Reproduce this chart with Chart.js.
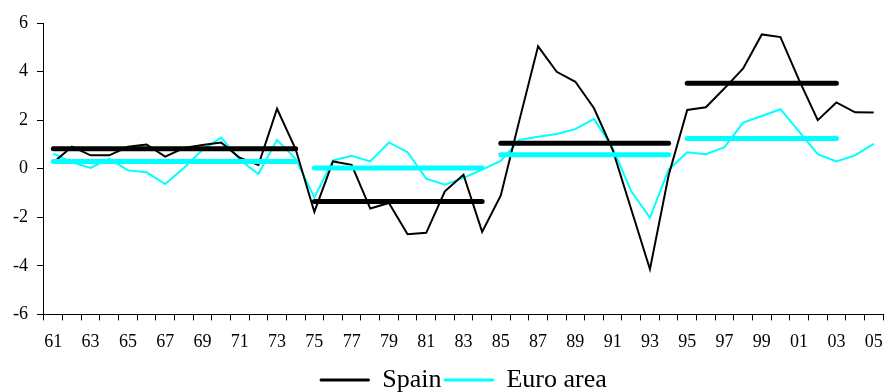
<!DOCTYPE html>
<html>
<head>
<meta charset="utf-8">
<script src="https://cdn.jsdelivr.net/npm/chart.js@4/dist/chart.umd.min.js"></script>
<style>
html,body{margin:0;padding:0;background:#fff;}
#wrap{width:884px;height:392px;position:relative;}
</style>
</head>
<body>
<div id="wrap"><canvas id="c" width="884" height="392"></canvas></div>
<script>
const years = ["61","62","63","64","65","66","67","68","69","70","71","72","73","74","75","76","77","78","79","80","81","82","83","84","85","86","87","88","89","90","91","92","93","94","95","96","97","98","99","00","01","02","03","04","05"];
const spain = [0.25,0.91,0.55,0.55,0.9,1.0,0.5,0.85,0.98,1.08,0.45,0.15,2.47,0.8,-1.78,0.3,0.16,-1.64,-1.41,-2.7,-2.64,-0.93,-0.25,-2.6,-1.1,2.0,5.04,3.99,3.58,2.49,0.78,-1.68,-4.14,-0.28,2.42,2.53,3.31,4.13,5.53,5.42,3.65,2.0,2.73,2.32,2.31];
const euro = [0.62,0.26,0.03,0.41,-0.07,-0.15,-0.63,0.03,0.78,1.28,0.37,-0.22,1.19,0.4,-1.18,0.34,0.53,0.3,1.08,0.68,-0.41,-0.66,-0.38,-0.04,0.32,1.19,1.32,1.43,1.63,2.05,0.85,-0.93,-2.02,-0.04,0.68,0.6,0.89,1.9,2.17,2.45,1.53,0.6,0.3,0.55,1.02];
const periods = [["61","74"],["75","84"],["85","94"],["95","03"]];
const spainAvg = [0.82,-1.35,1.05,3.52];
const euroAvg = [0.3,0.03,0.57,1.24];
const yTicks = [-6,-4,-2,0,2,4,6];

function periodSeries(avg, p){
  const a = years.indexOf(periods[p][0]), b = years.indexOf(periods[p][1]);
  return years.map((y, i) => (i >= a && i <= b ? avg : null));
}

const serif = "'Liberation Serif','DejaVu Serif',serif";
const datasets = [
  {label:"Spain", data:spain, borderColor:"#000000", backgroundColor:"#000000", borderWidth:2, pointRadius:0, tension:0, order:3},
  {label:"Euro area", data:euro, borderColor:"#00FFFF", backgroundColor:"#00FFFF", borderWidth:2, pointRadius:0, tension:0, order:4}
];
periods.forEach((p, k) => {
  datasets.push({label:"Spain avg", data:periodSeries(spainAvg[k], k), borderColor:"#000000", backgroundColor:"#000000", borderWidth:5, borderCapStyle:"round", pointRadius:0, spanGaps:false, order:1});
  datasets.push({label:"Euro avg", data:periodSeries(euroAvg[k], k), borderColor:"#00FFFF", backgroundColor:"#00FFFF", borderWidth:5, borderCapStyle:"round", pointRadius:0, spanGaps:false, order:2});
});

// center the legend under the plot area rather than the whole canvas
const legendShift = {
  id: "legendShift",
  afterLayout(chart) {
    const lg = chart.legend, ca = chart.chartArea;
    if (!lg) return;
    const d = (ca.left + ca.right) / 2 - (lg.left + lg.right) / 2;
    lg.left += d; lg.right += d;
  }
};

new Chart(document.getElementById("c"), {
  type: "line",
  data: { labels: years, datasets: datasets },
  plugins: [legendShift],
  options: {
    responsive: false,
    animation: false,
    layout: { padding: { left: 4, right: 1, top: 23, bottom: -11 } },
    plugins: {
      legend: {
        position: "bottom",
        labels: {
          generateLabels: chart => chart.data.datasets.slice(0, 2).map((ds, i) => ({
            text: ds.label, fillStyle: ds.borderColor, strokeStyle: ds.borderColor,
            lineWidth: 1, hidden: false, datasetIndex: i, fontColor: "#000"
          })),
          boxWidth: 49, boxHeight: 2,
          font: { family: serif, size: 26, lineHeight: 1 },
          color: "#000",
          padding: 3
        }
      },
      tooltip: { enabled: false }
    },
    scales: {
      x: {
        type: "category",
        offset: true,
        afterFit: scale => { scale.paddingRight = 0; scale.paddingLeft = 0; },
        grid: { display: true, offset: true, drawOnChartArea: false, drawTicks: true, tickLength: 6, color: "#000", lineWidth: 1 },
        border: { display: true, color: "#000", width: 1 },
        ticks: {
          autoSkip: false, maxRotation: 0, minRotation: 0,
          font: { family: serif, size: 18 }, color: "#000", padding: 11,
          callback: (v, i) => (i % 2 === 0 ? years[i] : "")
        }
      },
      y: {
        min: -6, max: 6,
        afterBuildTicks: axis => { axis.ticks = yTicks.map(v => ({ value: v })); },
        grid: { display: true, drawOnChartArea: false, drawTicks: true, tickLength: 7, color: "#000", lineWidth: 1 },
        border: { display: true, color: "#000", width: 1 },
        ticks: { font: { family: serif, size: 18 }, color: "#000", padding: 9 }
      }
    }
  }
});
</script>
</body>
</html>
